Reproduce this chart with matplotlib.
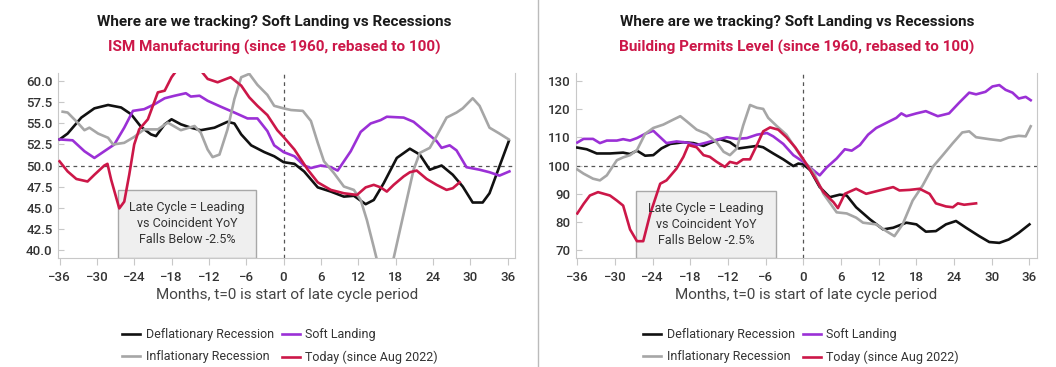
import matplotlib
matplotlib.use("Agg")
import matplotlib.pyplot as plt
from matplotlib.patches import Rectangle
from matplotlib.lines import Line2D

plt.rcParams['font.family'] = ['Roboto', 'DejaVu Sans']

# colours
BLACK = "#111111"
PURPLE = "#9B30D6"
GRAY = "#A6A6A6"
RED = "#CC1748"

# ---------------- ISM Manufacturing (left) ----------------
ism_defl_m = [-36, -34.7, -32.5, -30.4, -28.2, -26.1, -24.5, -22.9, -21.3, -20.5, -19.1, -18,
              -16.5, -14.9, -13.3, -11.1, -9, -7.9, -6.8, -5.2, -3.1, -1.5, 0, 1.75, 3.3, 5.5,
              7.6, 9.7, 11.3, 13.2, 14.5, 16.1, 18.2, 20.3, 21.9, 23.5, 25.4, 27.2, 28.8, 30.4,
              32, 33.1, 34.7, 36.2]
ism_defl_v = [53.1, 53.8, 55.7, 56.8, 57.2, 56.9, 56.1, 54.6, 53.7, 53.5, 54.9, 55.5,
              54.9, 54.5, 54.2, 54.5, 55.2, 55.0, 53.7, 52.4, 51.6, 51.1, 50.4, 50.2, 49.3, 47.4,
              46.9, 46.3, 46.4, 45.4, 45.9, 47.9, 50.9, 52.0, 51.3, 49.5, 50.0, 48.9, 47.5, 45.6,
              45.6, 46.7, 49.9, 52.9]

ism_soft_m = [-36, -33.9, -32, -30.4, -28.8, -27.2, -25.6, -24.2, -22.4, -20.7, -19.1, -17.5,
              -15.7, -14.9, -13.5, -12.2, -10.1, -7.9, -5.8, -4.2, -2.6, -1.5, 0, 1.75, 3.3, 4.4,
              6, 7.6, 8.7, 10.8, 12.4, 14, 15.6, 16.6, 19.3, 20.9, 23, 24.6, 25.4, 26.7, 27.8,
              29.4, 31.5, 33.1, 34.7, 36.3]
ism_soft_v = [53.1, 53.0, 51.7, 50.9, 51.7, 52.5, 54.5, 56.5, 56.7, 57.3, 58.0, 58.3,
              58.6, 58.2, 58.3, 57.7, 57.0, 56.3, 55.6, 55.6, 54.1, 52.4, 51.6, 51.1, 50.0, 49.7,
              50.0, 49.8, 49.4, 51.7, 54.0, 55.0, 55.4, 55.8, 55.7, 55.2, 53.9, 52.9, 52.1, 52.4, 51.8,
              49.8, 49.5, 49.2, 48.8, 49.3]

ism_infl_m = [-35.5, -34.7, -33.1, -32, -31.2, -29.8, -28.2, -27.4, -25.6, -24, -22.4, -20.2,
              -18.6, -16.5, -14.3, -13.3, -12.2, -11.4, -10.3, -9, -7.9, -6.8, -5.5, -4.2, -2.6,
              -1.5, 0, 1.2, 3.1, 4.4, 5.5, 6.5, 8.1, 9.7, 11.3, 12.4, 13.4, 14.5, 15.0, 16.3, 17.7,
              18.7, 19.8, 20.9, 21.9, 23.5, 24.6, 26.2, 27.8, 28.8, 30.4, 31.5, 33.1, 34.7, 36.2]
ism_infl_v = [56.4, 56.3, 55.1, 54.2, 54.5, 53.8, 53.3, 52.5, 52.7, 53.4, 54.3, 54.3,
              55.1, 54.2, 54.7, 53.9, 51.9, 51.0, 51.3, 54.3, 57.9, 60.5, 60.9, 59.6, 58.4,
              57.1, 56.8, 56.6, 56.5, 55.3, 52.7, 50.5, 49.1, 47.5, 47.1, 45.9, 43.5, 40.3, 38.8, 35.0, 39.0,
              42.3, 45.9, 49.5, 51.5, 52.1, 53.5, 55.7, 56.3, 56.8, 58.0, 57.1, 54.5, 53.8, 53.1]

ism_today_m = [-36, -34.7, -33.3, -31.5, -30.4, -28.8, -28.3, -27.7, -26.4, -25.6, -24.8, -24,
               -23.2, -21.8, -20.2, -19.1, -18, -17.0, -15.8, -14.3, -13.3, -12.2, -10.6, -8.5,
               -6.8, -5.5, -4.2, -2.6, -1, 0, 1.75, 3.9, 5.5, 7.6, 9.7, 11.8, 13.2, 14.5, 15.6,
               16.6, 17.7, 19.3, 20.3, 21.4, 23, 24.6, 26.2, 27.2, 28.3]
ism_today_v = [50.5, 49.3, 48.4, 48.1, 48.9, 50.0, 50.2, 48.3, 44.9, 45.7, 48.9, 52.5,
               54.3, 55.5, 58.7, 58.9, 60.5, 61.5, 62.6, 62.2, 61.3, 60.3, 59.9, 60.5,
               59.5, 58.1, 57.1, 56.0, 54.2, 53.4, 51.9, 49.5, 48.0, 47.1, 46.7, 46.5, 47.4, 47.7, 47.4,
               46.9, 47.7, 48.7, 49.2, 49.4, 48.4, 47.7, 47.1, 47.3, 48.0]

# ---------------- Building Permits (right) ----------------
bp_defl_m = [-36, -34.5, -32.9, -30.8, -28.7, -27.6, -26.5, -25.2, -23.9, -22.6, -21.2, -19.1,
             -17.5, -15.9, -14.9, -13.3, -11.7, -10.3, -9, -7.4, -6.4, -4.8, -3.2, -1.6, -0.8,
             0, 1.1, 2.6, 4.2, 5.8, 6.9, 8.4, 10.6, 12.7, 14.3, 16.4, 18, 19.5, 21.1, 22.7,
             24.3, 25.9, 28, 29.6, 31.2, 32.7, 34.3, 36]
bp_defl_v = [106.4, 105.8, 104.3, 104.3, 104.6, 104.1, 105.3, 103.5, 103.7, 106.1, 107.7, 108.3,
             108.0, 107.0, 108.0, 109.4, 108.3, 106.1, 106.5, 107.0, 106.5, 104.3, 102.2, 99.8, 100.7,
             100.4, 98.3, 92.3, 88.7, 89.6, 89.3, 85.1, 80.8, 77.2, 77.8, 79.6, 79.0, 76.4, 76.6, 79.0,
             80.2, 77.8, 74.8, 72.7, 72.4, 73.6, 76.0, 79.0]

bp_soft_m = [-36, -35, -33.5, -32.4, -31.3, -29.7, -28.7, -27.6, -26.5, -25.2, -23.9, -22.8,
             -21.8, -20.2, -18.6, -17, -15.4, -13.8, -12.2, -10.6, -9, -7.4, -5.8, -4.8, -3.2,
             -1.6, 0, 1.6, 2.6, 3.7, 5.3, 6.6, 7.7, 9, 10.3, 11.6, 13.2, 14.8, 15.6, 16.4, 18,
             19.5, 21.4, 23.2, 24.8, 26.4, 27.5, 29, 30.1, 31.2, 32.2, 33.3, 34.3, 35.4, 36.2]
bp_soft_v = [108.2, 109.5, 109.5, 108.0, 108.9, 108.9, 109.4, 108.9, 109.8, 111.3, 112.4, 110.1,
             108.0, 108.6, 108.2, 107.3, 108.2, 109.2, 110.1, 109.5, 109.8, 111.0, 111.6, 110.4, 107.7,
             103.7, 101.3, 98.3, 96.5, 99.3, 102.5, 105.8, 105.3, 107.3, 111.0, 113.4, 115.2, 117.0, 118.6, 117.6, 118.6,
             119.4, 117.6, 118.6, 122.4, 126.0, 125.4, 126.3, 128.2, 128.7, 127.0, 126.0, 123.9, 124.5, 123.3]

bp_infl_m = [-36, -35, -33.5, -32.4, -31.3, -29.7, -28.7, -27.6, -26.5, -25.2, -23.9, -22.3,
             -20.7, -19.6, -18.6, -17, -15.4, -13.8, -12.7, -11.7, -10.6, -9.6, -8.5, -7.4, -6.4,
             -5.6, -4.2, -2.7, -1.6, 0, 1.6, 3.2, 5.3, 6.9, 8.4, 9.5, 11.6, 13.2, 14.5, 15.8, 17.4,
             19, 20.6, 22.2, 23.8, 25.3, 26.4, 27.5, 29.6, 31.4, 32.7, 34.3, 35.4, 36.2]
bp_infl_v = [98.6, 97.1, 95.3, 94.7, 96.5, 101.9, 102.9, 103.7, 105.5, 111.3, 113.4, 114.6,
             116.4, 117.6, 115.8, 112.8, 111.3, 108.2, 104.9, 103.7, 106.1, 114.2, 121.6, 120.6, 120.2,
             117.0, 114.0, 111.0, 107.3, 101.9, 97.7, 89.9, 83.3, 82.9, 81.4, 79.6, 79.0, 76.6, 74.8, 79.0, 87.5,
             92.9, 99.5, 103.7, 108.0, 111.8, 112.2, 110.1, 109.4, 108.9, 110.0, 110.6, 110.4, 114.0]

bp_today_m = [-36, -35, -34, -32.7, -30.8, -29.7, -28.7, -27.6, -26.5, -25.5, -24.4, -22.8,
              -21.8, -20.2, -19.1, -18.3, -17, -15.9, -14.9, -13.8, -12.5, -11.7, -10.6, -9.6,
              -8.5, -7.4, -6.4, -5.3, -4, -2.7, -1.3, 0, 1.6, 3.2, 4.8, 5.5, 6.6, 8.4, 10, 12.1,
              14.3, 15.3, 16.9, 18.5, 20.1, 21.1, 22.7, 23.8, 24.6, 25.6, 27.5]
bp_today_v = [82.9, 86.3, 89.3, 90.5, 89.3, 87.5, 85.7, 77.2, 73.0, 73.0, 82.7, 93.5,
              94.7, 98.9, 103.1, 107.3, 106.5, 103.7, 103.1, 101.3, 99.5, 101.3, 100.7, 102.2,
              102.2, 107.3, 112.2, 113.6, 112.8, 110.1, 106.5, 102.2, 96.5, 90.5, 86.9, 84.8, 89.9, 91.7, 89.9, 91.1,
              92.3, 91.1, 91.3, 91.7, 89.9, 86.5, 85.4, 85.1, 86.5, 86.0, 86.5]

labels = ["Deflationary Recession", "Soft Landing", "Inflationary Recession", "Today (since Aug 2022)"]
xticks = list(range(-36, 37, 6))

fig = plt.figure(figsize=(10.56, 3.67), dpi=100)


def draw_panel(ax, series, ylim, yticks, yfmt, ref, box_top):
    ax.add_patch(Rectangle((-26.6, ylim[0]), 22.2, box_top - ylim[0], facecolor="#EFEFEF",
                           edgecolor="#A8A8A8", lw=1.0, zorder=1))
    ax.text(-15.5, (ylim[0] + box_top) / 2, "Late Cycle = Leading\nvs Coincident YoY\nFalls Below -2.5%",
            ha="center", va="center", fontsize=9, color="#333333", linespacing=1.3, zorder=4)
    ax.axhline(ref, color="#555555", lw=0.9, ls=(0, (3, 3)), zorder=2)
    ax.axvline(0, color="#555555", lw=0.9, ls=(0, (3, 3)), zorder=2)
    for (m, v), c in zip(series, [BLACK, PURPLE, GRAY, RED]):
        ax.plot(m, v, color=c, lw=1.9, zorder=3)
    ax.set_xlim(-36.2, 37.2)
    ax.set_ylim(*ylim)
    ax.set_xticks(xticks)
    ax.set_yticks(yticks)
    ax.set_yticklabels([yfmt.format(t) for t in yticks])
    for s in ["left", "bottom", "right"]:
        ax.spines[s].set_color("#C8C8C8")
    ax.spines["top"].set_visible(False)
    ax.tick_params(axis="x", colors="#C8C8C8", labelcolor="#333333", labelsize=9.5, length=5, pad=4)
    ax.tick_params(axis="y", colors="#C8C8C8", labelcolor="#333333", labelsize=9.5, length=4,
                   direction="in", pad=4)
    for lab in ax.get_xticklabels() + ax.get_yticklabels():
        lab.set_fontweight("medium")
    ax.set_xlabel("Months, t=0 is start of late cycle period", fontsize=11, color="#444444", labelpad=3)


ax1 = fig.add_axes([0.0552, 0.297, 0.4325, 0.504])
draw_panel(ax1, [(ism_defl_m, ism_defl_v), (ism_soft_m, ism_soft_v),
                 (ism_infl_m, ism_infl_v), (ism_today_m, ism_today_v)],
           (39, 61), [40 + 2.5 * i for i in range(9)], "{:.1f}", 50, 47.1)

ax2 = fig.add_axes([0.5455, 0.297, 0.4365, 0.504])
draw_panel(ax2, [(bp_defl_m, bp_defl_v), (bp_soft_m, bp_soft_v),
                 (bp_infl_m, bp_infl_v), (bp_today_m, bp_today_v)],
           (67, 133), list(range(70, 131, 10)), "{:d}", 100, 90.8)

titles = [("ISM Manufacturing (since 1960, rebased to 100)", 274 / 1056),
          ("Building Permits Level (since 1960, rebased to 100)", 797 / 1056)]
for sub, xc in titles:
    fig.text(xc, 1 - 22 / 367, "Where are we tracking? Soft Landing vs Recessions", ha="center",
             va="center", fontsize=11, fontweight="bold", color="#1A1A1A")
    fig.text(xc, 1 - 47 / 367, sub, ha="center", va="center", fontsize=11, fontweight="bold", color=RED)

handles = [Line2D([], [], color=c, lw=1.9) for c in [BLACK, PURPLE, GRAY, RED]]
order = [0, 2, 1, 3]
for xc in [280 / 1056, 801 / 1056]:
    fig.legend([handles[i] for i in order], [labels[i] for i in order], ncol=2, loc="center",
               bbox_to_anchor=(xc, 1 - 346 / 367), frameon=False, fontsize=9, handlelength=1.45,
               handletextpad=0.45, columnspacing=0.6, labelspacing=0.75, labelcolor="#333333")

fig.add_artist(Line2D([538 / 1056, 538 / 1056], [0, 1], color="#BBBBBB", lw=1.0))

fig.savefig("out.png", dpi=100)
